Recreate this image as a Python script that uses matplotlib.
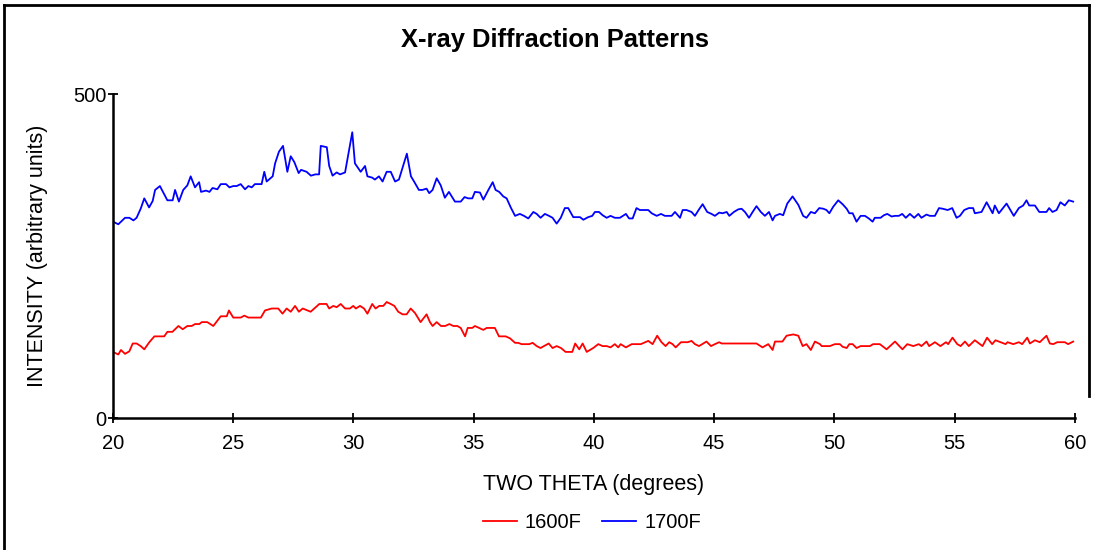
import matplotlib.pyplot as plt
from matplotlib.lines import Line2D

plt.rcParams['font.family'] = ['Liberation Sans', 'DejaVu Sans']

# 1700F pattern (two theta, intensity)
theta_1700 = [20.0, 20.22, 20.5, 20.68, 20.85, 20.98, 21.15, 21.3, 21.5, 21.65, 21.75, 21.95,
              22.09, 22.26, 22.48, 22.58, 22.74, 22.92, 23.09, 23.23, 23.41, 23.58, 23.66, 23.87,
              24.01, 24.14, 24.34, 24.48, 24.7, 24.84, 25.0, 25.14, 25.31, 25.49, 25.63, 25.77,
              25.9, 26.18, 26.29, 26.39, 26.64, 26.74, 26.9, 27.07, 27.25, 27.39, 27.54, 27.72,
              27.82, 28.05, 28.23, 28.41, 28.57, 28.64, 28.89, 28.99, 29.13, 29.3, 29.44, 29.65,
              29.95, 30.06, 30.3, 30.48, 30.58, 30.78, 30.89, 31.06, 31.21, 31.38, 31.55, 31.73,
              31.89, 32.22, 32.39, 32.52, 32.72, 32.86, 33.04, 33.15, 33.29, 33.46, 33.63, 33.8,
              33.97, 34.22, 34.46, 34.62, 34.77, 34.94, 35.05, 35.26, 35.4, 35.61, 35.79, 35.91,
              36.06, 36.23, 36.37, 36.54, 36.72, 36.92, 37.09, 37.27, 37.48, 37.62, 37.78, 37.96,
              38.13, 38.28, 38.45, 38.62, 38.79, 38.93, 39.14, 39.42, 39.56, 39.76, 39.93, 40.04,
              40.21, 40.36, 40.53, 40.69, 40.87, 41.08, 41.33, 41.46, 41.61, 41.77, 41.91, 42.26,
              42.4, 42.61, 42.79, 42.95, 43.23, 43.37, 43.58, 43.69, 43.85, 44.06, 44.2, 44.37,
              44.52, 44.71, 44.89, 45.03, 45.21, 45.35, 45.52, 45.63, 45.82, 46.0, 46.14, 46.28,
              46.45, 46.6, 46.76, 46.94, 47.11, 47.28, 47.43, 47.53, 47.73, 47.87, 48.04, 48.26,
              48.5, 48.7, 48.84, 49.02, 49.19, 49.37, 49.54, 49.67, 49.79, 49.95, 50.16, 50.34,
              50.51, 50.62, 50.76, 50.92, 51.09, 51.27, 51.43, 51.59, 51.68, 51.92, 52.06, 52.2,
              52.38, 52.52, 52.68, 52.82, 52.97, 53.14, 53.32, 53.49, 53.62, 53.83, 53.97, 54.18,
              54.35, 54.5, 54.71, 54.9, 55.08, 55.22, 55.4, 55.59, 55.77, 55.84, 56.12, 56.33,
              56.58, 56.67, 56.84, 57.16, 57.46, 57.67, 57.85, 57.99, 58.1, 58.34, 58.52, 58.82,
              58.93, 59.07, 59.24, 59.4, 59.58, 59.75, 59.93]
int_1700 = [303, 299, 309, 309, 305, 309, 323, 339, 325, 335, 352, 358,
            348, 336, 336, 352, 334, 352, 359, 373, 356, 364, 349, 351,
            349, 355, 353, 361, 361, 356, 358, 358, 361, 353, 358, 356,
            361, 361, 380, 365, 373, 393, 411, 420, 380, 404, 395, 378,
            383, 380, 374, 376, 376, 420, 418, 389, 374, 379, 376, 379,
            441, 393, 380, 389, 373, 371, 368, 373, 365, 380, 380, 365,
            368, 408, 373, 365, 352, 352, 354, 347, 352, 370, 359, 340,
            349, 334, 334, 341, 339, 339, 349, 348, 337, 352, 364, 352,
            349, 342, 339, 325, 312, 315, 312, 308, 318, 315, 309, 315,
            312, 309, 300, 309, 324, 324, 310, 310, 306, 310, 312, 318,
            318, 313, 309, 312, 309, 309, 315, 308, 308, 324, 321, 321,
            316, 312, 315, 312, 312, 318, 309, 321, 321, 318, 312, 322,
            330, 318, 315, 312, 317, 316, 318, 312, 318, 322, 323, 318,
            309, 318, 327, 318, 312, 318, 305, 312, 315, 313, 331, 342,
            329, 312, 309, 318, 316, 324, 323, 321, 316, 326, 336, 330,
            323, 316, 316, 303, 312, 312, 308, 303, 309, 309, 313, 315,
            311, 312, 312, 315, 309, 315, 309, 315, 309, 314, 312, 312,
            324, 323, 321, 324, 309, 312, 321, 324, 324, 316, 318, 333,
            316, 328, 316, 331, 312, 324, 328, 336, 328, 328, 318, 318,
            324, 318, 321, 333, 328, 336, 334]

# 1600F pattern
theta_1600 = [20.0, 20.22, 20.33, 20.5, 20.68, 20.82, 20.98, 21.15, 21.3, 21.51, 21.72, 21.93,
              22.13, 22.26, 22.47, 22.72, 22.9, 23.09, 23.27, 23.41, 23.59, 23.69, 23.92, 24.17,
              24.48, 24.73, 24.82, 25.0, 25.31, 25.46, 25.63, 26.15, 26.32, 26.6, 26.87, 27.05,
              27.22, 27.39, 27.57, 27.73, 27.89, 28.22, 28.58, 28.88, 28.99, 29.16, 29.3, 29.47,
              29.65, 29.85, 29.99, 30.1, 30.27, 30.44, 30.58, 30.78, 30.92, 31.07, 31.24, 31.38,
              31.55, 31.7, 31.86, 32.04, 32.21, 32.38, 32.56, 32.79, 33.04, 33.18, 33.29, 33.46,
              33.64, 33.81, 33.99, 34.15, 34.32, 34.46, 34.64, 34.75, 34.94, 35.05, 35.23, 35.4,
              35.54, 35.88, 36.05, 36.33, 36.51, 36.72, 36.85, 36.99, 37.31, 37.45, 37.62, 37.78,
              37.92, 38.12, 38.28, 38.45, 38.63, 38.82, 39.1, 39.22, 39.39, 39.53, 39.7, 39.97,
              40.18, 40.36, 40.53, 40.69, 40.87, 41.01, 41.11, 41.33, 41.57, 41.95, 42.26, 42.44,
              42.63, 42.81, 42.98, 43.13, 43.27, 43.4, 43.62, 43.9, 44.06, 44.2, 44.37, 44.68,
              44.87, 45.03, 45.21, 45.31, 45.8, 46.3, 46.76, 47.01, 47.25, 47.43, 47.53, 47.84,
              48.01, 48.29, 48.5, 48.68, 48.84, 49.02, 49.19, 49.4, 49.47, 49.81, 50.02, 50.23,
              50.34, 50.51, 50.62, 50.76, 50.92, 51.09, 51.48, 51.61, 51.89, 52.17, 52.52, 52.83,
              53.03, 53.28, 53.51, 53.62, 53.83, 53.94, 54.18, 54.41, 54.64, 54.73, 54.91, 55.11,
              55.25, 55.43, 55.59, 55.84, 56.16, 56.35, 56.56, 56.7, 56.91, 57.12, 57.2, 57.44,
              57.67, 57.81, 58.02, 58.13, 58.34, 58.54, 58.82, 58.96, 59.1, 59.27, 59.58, 59.72,
              59.93]
int_1600 = [102, 98, 105, 99, 103, 115, 115, 111, 106, 117, 126, 126,
            126, 133, 133, 142, 137, 142, 142, 145, 145, 148, 148, 142,
            157, 157, 166, 155, 155, 158, 155, 155, 166, 169, 169, 161,
            169, 164, 173, 164, 169, 164, 176, 176, 169, 173, 171, 176,
            169, 169, 173, 169, 173, 169, 161, 176, 169, 173, 173, 179,
            176, 173, 164, 160, 160, 169, 162, 148, 160, 148, 142, 148,
            142, 142, 145, 142, 142, 139, 126, 139, 139, 142, 139, 136,
            139, 139, 126, 126, 123, 116, 116, 114, 114, 116, 111, 108,
            111, 115, 108, 111, 108, 102, 102, 115, 106, 115, 102, 108,
            114, 111, 111, 109, 114, 109, 114, 109, 114, 114, 119, 114,
            127, 117, 111, 117, 114, 109, 117, 117, 119, 114, 111, 118,
            111, 114, 117, 115, 115, 115, 115, 109, 114, 105, 118, 118,
            127, 129, 127, 111, 114, 105, 118, 114, 111, 111, 114, 114,
            110, 108, 114, 114, 108, 111, 111, 114, 114, 106, 118, 106,
            114, 111, 114, 111, 118, 111, 117, 111, 117, 114, 124, 114,
            111, 118, 111, 120, 111, 124, 114, 120, 117, 114, 117, 114,
            117, 114, 124, 115, 120, 117, 127, 115, 114, 117, 117, 114,
            118]

fig = plt.figure(figsize=(10.93, 5.5), dpi=100)
ax = fig.add_axes([0.1034, 0.24, 0.88, 0.589])

ax.plot(theta_1600, int_1600, color='#ff0000', lw=1.3, label='1600F')
ax.plot(theta_1700, int_1700, color='#0000ff', lw=1.3, label='1700F')

ax.set_xlim(20, 60)
ax.set_ylim(0, 500)
ax.set_xticks([20, 25, 30, 35, 40, 45, 50, 55, 60])
ax.set_yticks([0, 500])
ax.tick_params(direction='inout', length=7, width=1.3, labelsize=14.5)
ax.tick_params(axis='x', pad=8)
ax.tick_params(axis='y', pad=1)
ax.spines['top'].set_visible(False)
ax.spines['right'].set_visible(False)
ax.spines['left'].set_linewidth(1.8)
ax.spines['bottom'].set_linewidth(1.8)

ax.set_xlabel('TWO THETA (degrees)', fontsize=15.5, labelpad=15)
ax.set_ylabel('INTENSITY (arbitrary units)', fontsize=15.5, labelpad=18)
fig.text(0.508, 0.927, 'X-ray Diffraction Patterns', ha='center', va='center',
         fontsize=18.4, fontweight='bold')

ax.legend(loc='center', bbox_to_anchor=(0.5415, 0.05), bbox_transform=fig.transFigure,
          ncol=2, frameon=False, fontsize=14.5, handlelength=1.7, handletextpad=0.4,
          columnspacing=1.0)

# outer frame
fig.add_artist(Line2D([0.004, 0.004], [0.0, 0.991], color='black', lw=2))
fig.add_artist(Line2D([0.004, 0.996], [0.991, 0.991], color='black', lw=2))
fig.add_artist(Line2D([0.996, 0.996], [0.991, 0.28], color='black', lw=2))

fig.savefig('out.png', dpi=100)
